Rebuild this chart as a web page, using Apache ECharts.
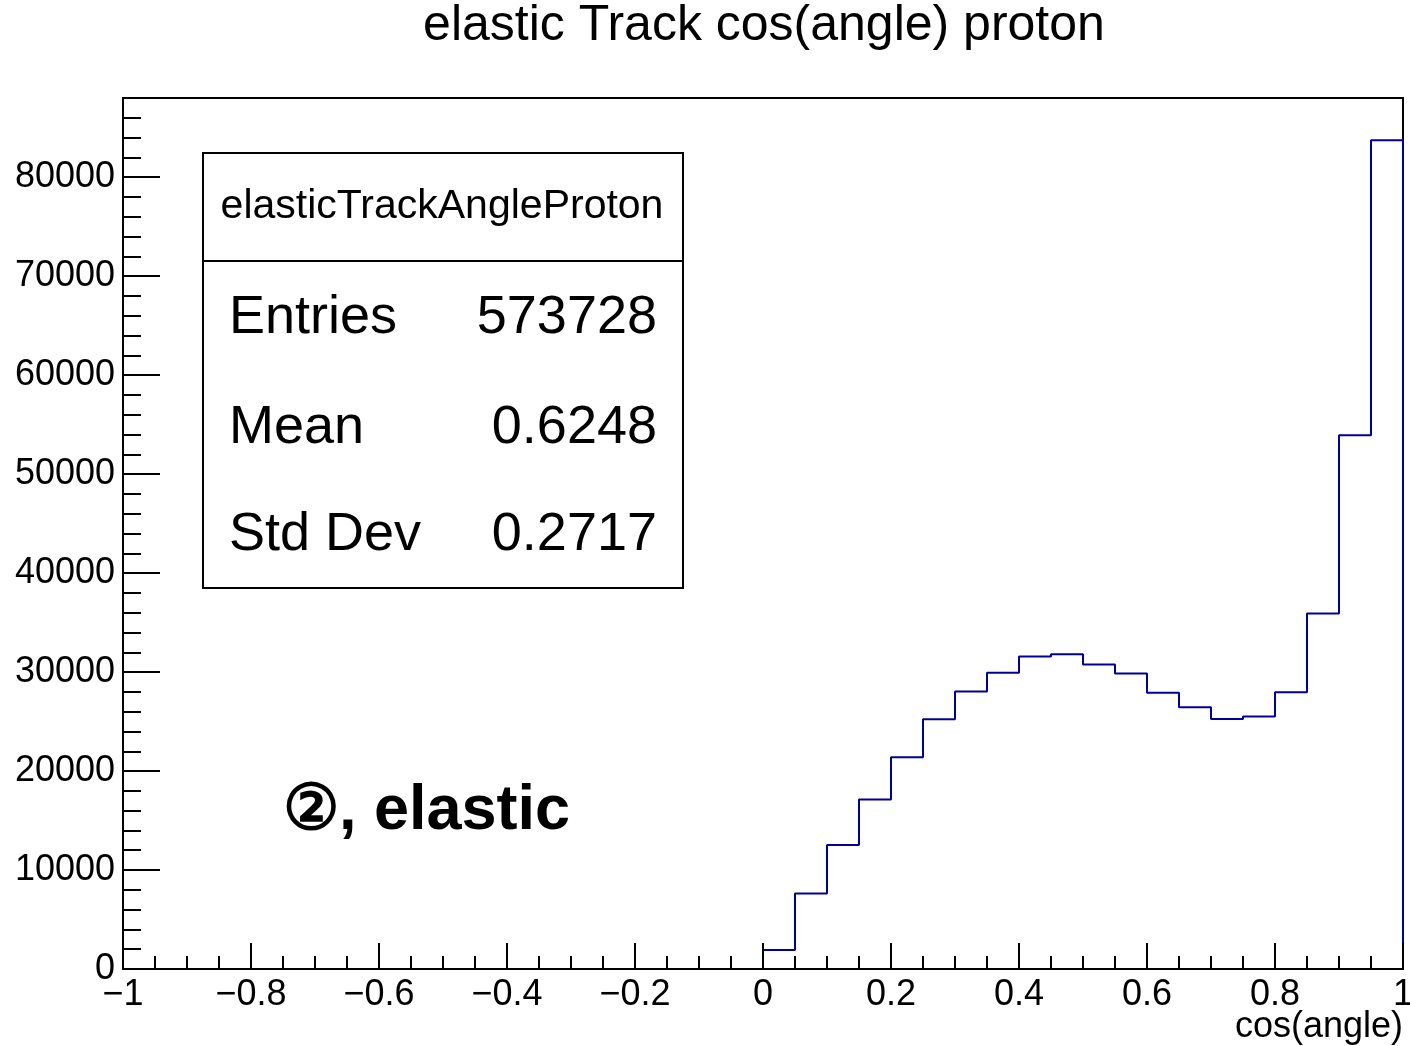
<!DOCTYPE html>
<html>
<head>
<meta charset="utf-8">
<script src="https://cdn.jsdelivr.net/npm/echarts@6/dist/echarts.min.js"></script>
<style>
html,body{margin:0;padding:0;background:#fff;}
#chart{width:1410px;height:1046px;}
</style>
</head>
<body>
<div id="chart"></div>
<script>
// ---- data ----
const titleText = 'elastic Track cos(angle) proton';
const xTitle = 'cos(angle)';
const histName = 'elasticTrackAngleProton';
const statLabels = ['Entries', 'Mean', 'Std Dev'];
const statValues = ['573728', '0.6248', '0.2717'];
const annotation = '\u2461, elastic';
const binLow = -1;
const binWidth = 0.05;
const counts = [
  0, 0, 0, 0, 0, 0, 0, 0, 0, 0,
  0, 0, 0, 0, 0, 0, 0, 0, 0, 0,
  1920, 7640, 12520, 17130, 21400, 25240, 28040, 29920, 31570, 31800,
  30770, 29850, 27900, 26450, 25270, 25510, 27970, 35910, 53930, 83740
];
const xMin = -1, xMax = 1, xStep = 0.2;
const yMin = 0, yMax = 88000, yStep = 10000, yMinorStep = 2000;

// build step outline through bin edges
const pts = [];
for (let i = 0; i < counts.length; i++) {
  pts.push([+(binLow + i * binWidth).toFixed(4), counts[i]]);
}
const hiEdge = +(binLow + counts.length * binWidth).toFixed(4);
pts.push([hiEdge, counts[counts.length - 1]]);
pts.push([hiEdge, 0]);

const FONT = "'Liberation Sans', Arial, Helvetica, sans-serif";
const fmtX = v => {
  const s = String(+(+v).toFixed(2));
  return s.replace('-', '\u2212');
};
const fmtY = v => String(Math.round(v));

const chart = echarts.init(document.getElementById('chart'), null, {renderer: 'canvas'});
const option = {
  backgroundColor: '#fff',
  animation: false,
  grid: {left: 123, right: 7, top: 98, bottom: 77, show: true, borderColor: '#000', borderWidth: 2, z: 0,
         containLabel: false, outerBoundsMode: 'none'},
  xAxis: {
    type: 'value', min: xMin, max: xMax, interval: xStep, z: 5,
    axisLine: {show: true, onZero: false, lineStyle: {color: '#000', width: 2}},
    axisTick: {show: true, inside: true, length: 26, lineStyle: {color: '#000', width: 2}},
    minorTick: {show: true, splitNumber: 4, length: 13, lineStyle: {color: '#000', width: 2}},
    axisLabel: {color: '#000', fontSize: 36, fontFamily: FONT, margin: 8, formatter: fmtX, showMinLabel: true, showMaxLabel: true, hideOverlap: false},
    splitLine: {show: false}
  },
  yAxis: [
    {
      type: 'value', min: yMin, max: yMax, interval: yStep, position: 'left', z: 5,
      axisLine: {show: true, onZero: false, lineStyle: {color: '#000', width: 2}},
      axisTick: {show: true, inside: true, length: 37, lineStyle: {color: '#000', width: 2}},
      axisLabel: {color: '#000', fontSize: 36, fontFamily: FONT, margin: 8, showMaxLabel: false, formatter: fmtY},
      splitLine: {show: false}
    },
    {
      type: 'value', min: yMin, max: yMax, interval: yMinorStep, position: 'left', offset: 0, z: 5,
      axisLine: {show: false, onZero: false},
      axisTick: {show: true, inside: true, length: 18, lineStyle: {color: '#000', width: 2}},
      axisLabel: {show: false},
      splitLine: {show: false}
    }
  ],
  series: [{
    type: 'line', step: 'end', data: pts, yAxisIndex: 0,
    showSymbol: false, symbol: 'none', clip: false, z: 2,
    lineStyle: {color: '#000099', width: 2}
  }],
  graphic: [
    {type: 'text', z: 10,
     style: {text: titleText, x: 764, y: 26, font: '50px ' + FONT, fill: '#000', align: 'center', verticalAlign: 'middle'}},
    {type: 'rect', z: 20, shape: {x: 203, y: 153, width: 480, height: 435},
     style: {fill: '#fff', stroke: '#000', lineWidth: 2}},
    {type: 'line', z: 21, shape: {x1: 203, y1: 261, x2: 683, y2: 261},
     style: {stroke: '#000', lineWidth: 2}},
    {type: 'text', z: 22, style: {text: histName, x: 442, y: 207, font: '41px ' + FONT, fill: '#000', align: 'center', verticalAlign: 'middle'}},
    {type: 'text', z: 22, style: {text: statLabels[0], x: 229, y: 318, font: '54px ' + FONT, fill: '#000', align: 'left', verticalAlign: 'middle'}},
    {type: 'text', z: 22, style: {text: statValues[0], x: 657, y: 318, font: '54px ' + FONT, fill: '#000', align: 'right', verticalAlign: 'middle'}},
    {type: 'text', z: 22, style: {text: statLabels[1], x: 229, y: 428, font: '54px ' + FONT, fill: '#000', align: 'left', verticalAlign: 'middle'}},
    {type: 'text', z: 22, style: {text: statValues[1], x: 657, y: 428, font: '54px ' + FONT, fill: '#000', align: 'right', verticalAlign: 'middle'}},
    {type: 'text', z: 22, style: {text: statLabels[2], x: 229, y: 535, font: '54px ' + FONT, fill: '#000', align: 'left', verticalAlign: 'middle'}},
    {type: 'text', z: 22, style: {text: statValues[2], x: 657, y: 535, font: '54px ' + FONT, fill: '#000', align: 'right', verticalAlign: 'middle'}},
    {type: 'text', z: 22, style: {text: annotation, x: 283, y: 812, font: 'bold 63px ' + FONT, fill: '#000', align: 'left', verticalAlign: 'middle'}},
    {type: 'text', z: 22, style: {text: xTitle, x: 1403, y: 1027, font: '36px ' + FONT, fill: '#000', align: 'right', verticalAlign: 'middle'}}
  ]
};
chart.setOption(option);
</script>
</body>
</html>
